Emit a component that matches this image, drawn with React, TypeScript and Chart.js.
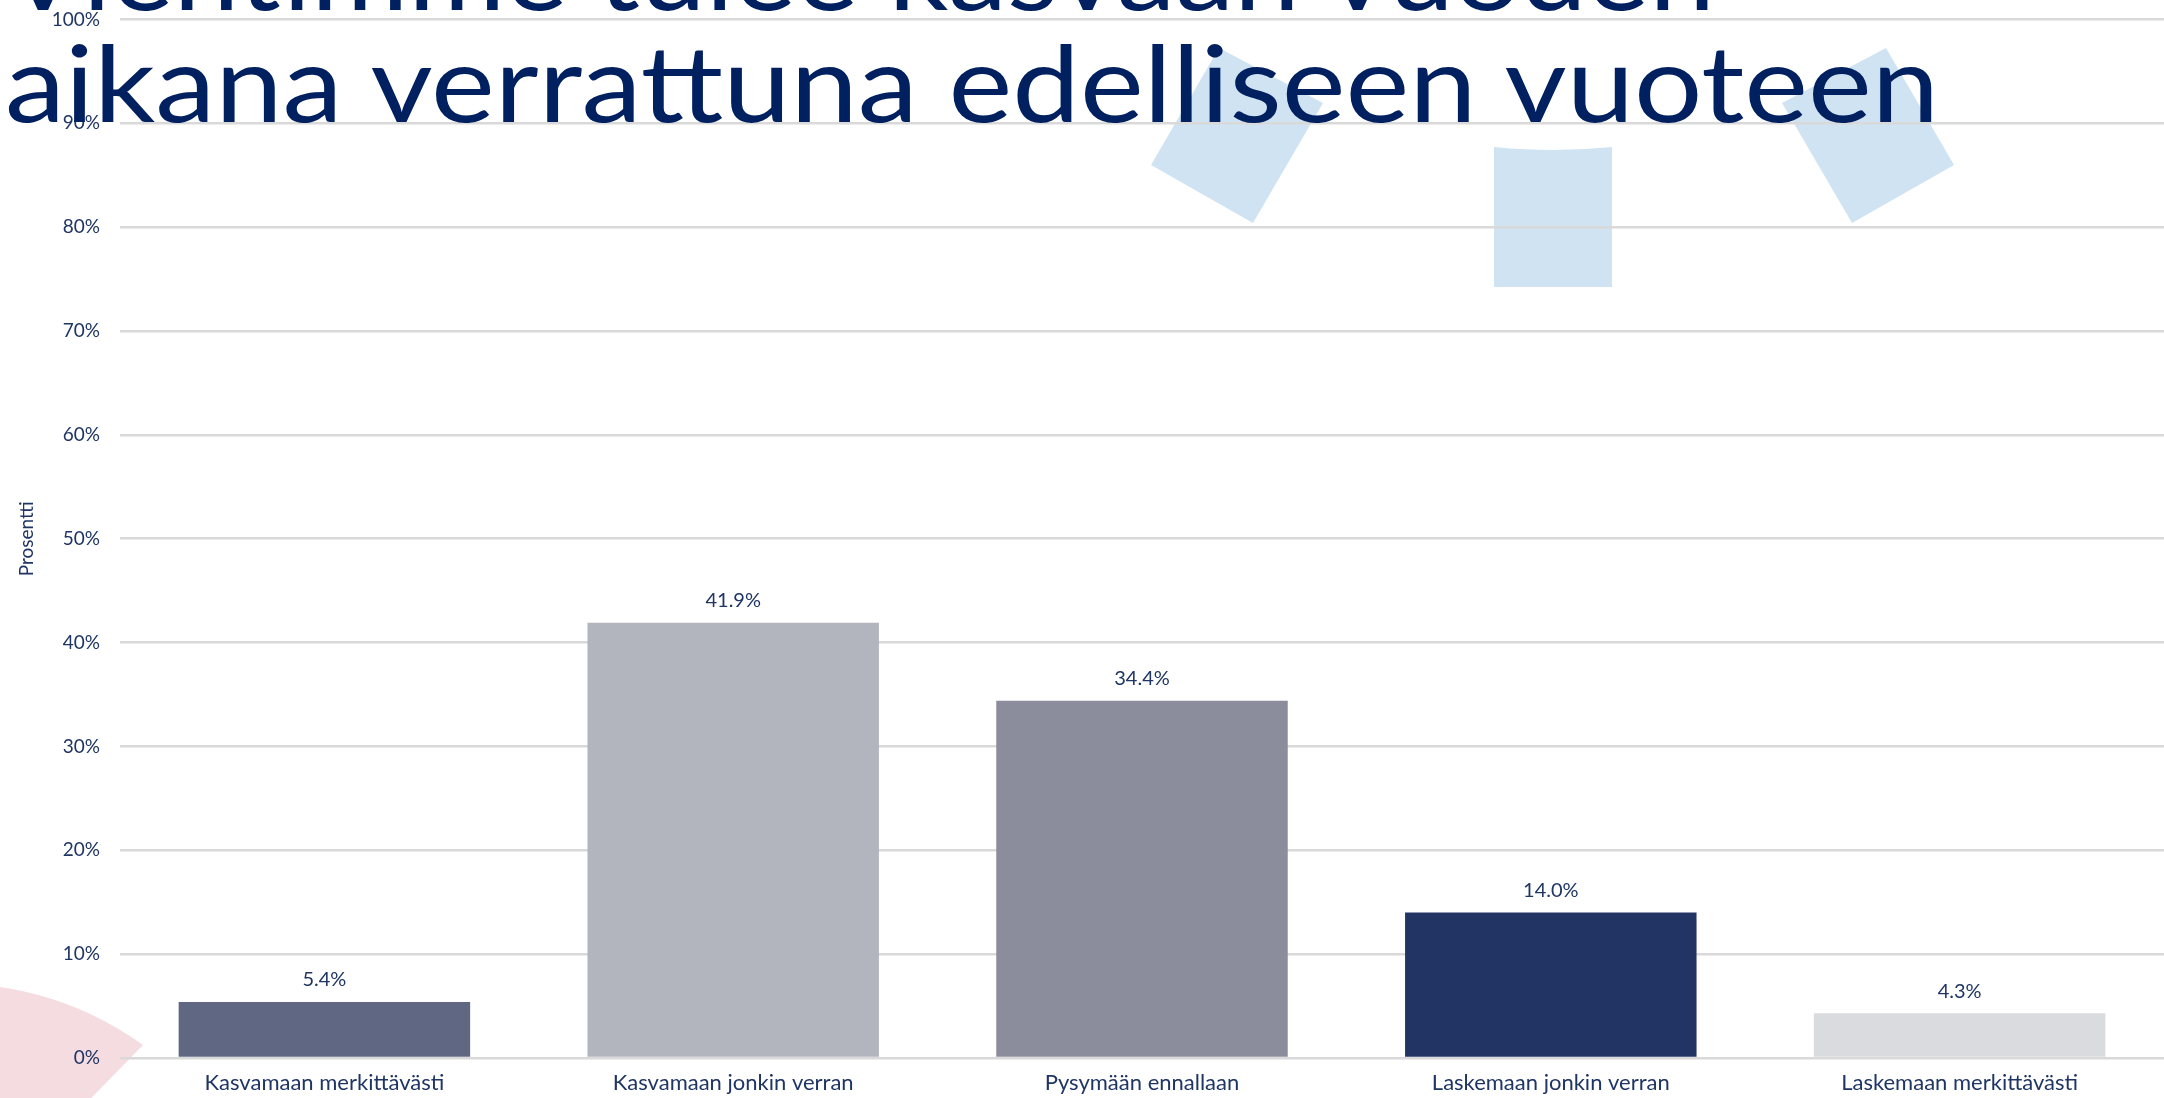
import React, { useEffect, useRef } from "react";
import { Chart, registerables } from "chart.js";

Chart.register(...registerables);

const categories = [
  "Kasvamaan merkittävästi",
  "Kasvamaan jonkin verran",
  "Pysymään ennallaan",
  "Laskemaan jonkin verran",
  "Laskemaan merkittävästi",
];
const values = [5.4, 41.9, 34.4, 14.0, 4.3];
const barColors = ["#5F6783", "#B3B5BE", "#8B8C9C", "#223464", "#DADBDF"];
const yMin = 0;
const yMax = 100;
const yStep = 10;
const yAxisTitle = "Prosentti";
const titleLines = ["Vientimme tulee kasvaan vuoden", "aikana verrattuna edelliseen vuoteen"];

const NAVY = "#1F3564";
const TITLE = "#002060";
const FONT = "Lato, 'Noto Sans', sans-serif";
const W = 2164;
const H = 1098;
const SHIFT = 12;

const valueLabels = {
  id: "valueLabels",
  afterDatasetsDraw(chart: any) {
    const ctx = chart.ctx;
    const meta = chart.getDatasetMeta(0);
    ctx.save();
    ctx.font = `20px ${FONT}`;
    ctx.fillStyle = NAVY;
    ctx.textAlign = "center";
    ctx.textBaseline = "middle";
    meta.data.forEach((el: any, i: number) => {
      const v = chart.data.datasets[0].data[i] as number;
      ctx.fillText(v.toFixed(1) + "%", el.x, el.y - 22);
    });
    ctx.restore();
  },
};

export default function App() {
  const ref = useRef<HTMLCanvasElement | null>(null);

  useEffect(() => {
    if (!ref.current) return;
    const chart = new Chart(ref.current, {
      type: "bar",
      data: {
        labels: categories,
        datasets: [
          {
            data: values,
            backgroundColor: barColors,
            borderWidth: 0,
            barPercentage: 0.713,
            categoryPercentage: 1,
          },
        ],
      },
      plugins: [valueLabels],
      options: {
        animation: false,
        responsive: false,
        maintainAspectRatio: false,
        layout: { padding: { top: 6, right: 0, left: 0, bottom: 0 } },
        plugins: {
          legend: { display: false },
          tooltip: { enabled: false },
          title: { display: false },
        },
        scales: {
          x: {
            grid: { display: false, drawTicks: false },
            border: { display: false },
            ticks: {
              color: NAVY,
              font: { family: FONT, size: 22 },
              padding: 12,
              maxRotation: 0,
              autoSkip: false,
            },
            afterFit: (s: any) => {
              s.height = 40;
            },
          },
          y: {
            min: yMin,
            max: yMax,
            grid: { color: "#D9D9D9", lineWidth: 2.5, drawTicks: false },
            border: { display: false },
            ticks: {
              stepSize: yStep,
              color: NAVY,
              font: { family: FONT, size: 19 },
              padding: 20,
              callback: (v: any) => v + "%",
            },
            title: {
              display: true,
              text: yAxisTitle,
              color: NAVY,
              font: { family: FONT, size: 19 },
              padding: { top: 15, bottom: 0 },
            },
            afterFit: (s: any) => {
              s.width = 120;
            },
          },
        },
      },
    });
    return () => chart.destroy();
  }, []);

  return (
    <div
      style={{
        position: "fixed",
        left: 0,
        top: 0,
        width: W,
        height: H,
        background: "#FFFFFF",
        overflow: "hidden",
      }}
    >
      <svg
        width={W}
        height={H}
        style={{ position: "absolute", left: 0, top: 0, zIndex: 0 }}
      >
        <polygon points="1219,48 1323,103 1253,223 1151,165" fill="#CFE3F3" />
        <polygon points="1886,48 1954,165 1852,223 1782,103" fill="#CFE3F3" />
        <path d="M1494,147 Q1553,153 1612,147 L1612,287 L1494,287 Z" fill="#CFE3F3" />
        <path d="M0,987 A329,329 0 0 1 143,1045 L60,1130 L0,1130 Z" fill="#F5DCE0" />
      </svg>
      <canvas
        ref={ref}
        width={W}
        height={H + SHIFT}
        style={{ position: "absolute", left: 0, top: -SHIFT, zIndex: 1 }}
      />
      <svg
        width={W}
        height={H}
        style={{ position: "absolute", left: 0, top: 0, zIndex: 2, pointerEvents: "none" }}
      >
        <text
          x={3}
          y={10}
          fill={TITLE}
          fontFamily={FONT}
          fontSize={106}
          textLength={1712}
          lengthAdjust="spacingAndGlyphs"
        >
          {titleLines[0]}
        </text>
        <text
          x={5}
          y={122}
          fill={TITLE}
          fontFamily={FONT}
          fontSize={106}
          textLength={1934}
          lengthAdjust="spacingAndGlyphs"
        >
          {titleLines[1]}
        </text>
      </svg>
    </div>
  );
}
